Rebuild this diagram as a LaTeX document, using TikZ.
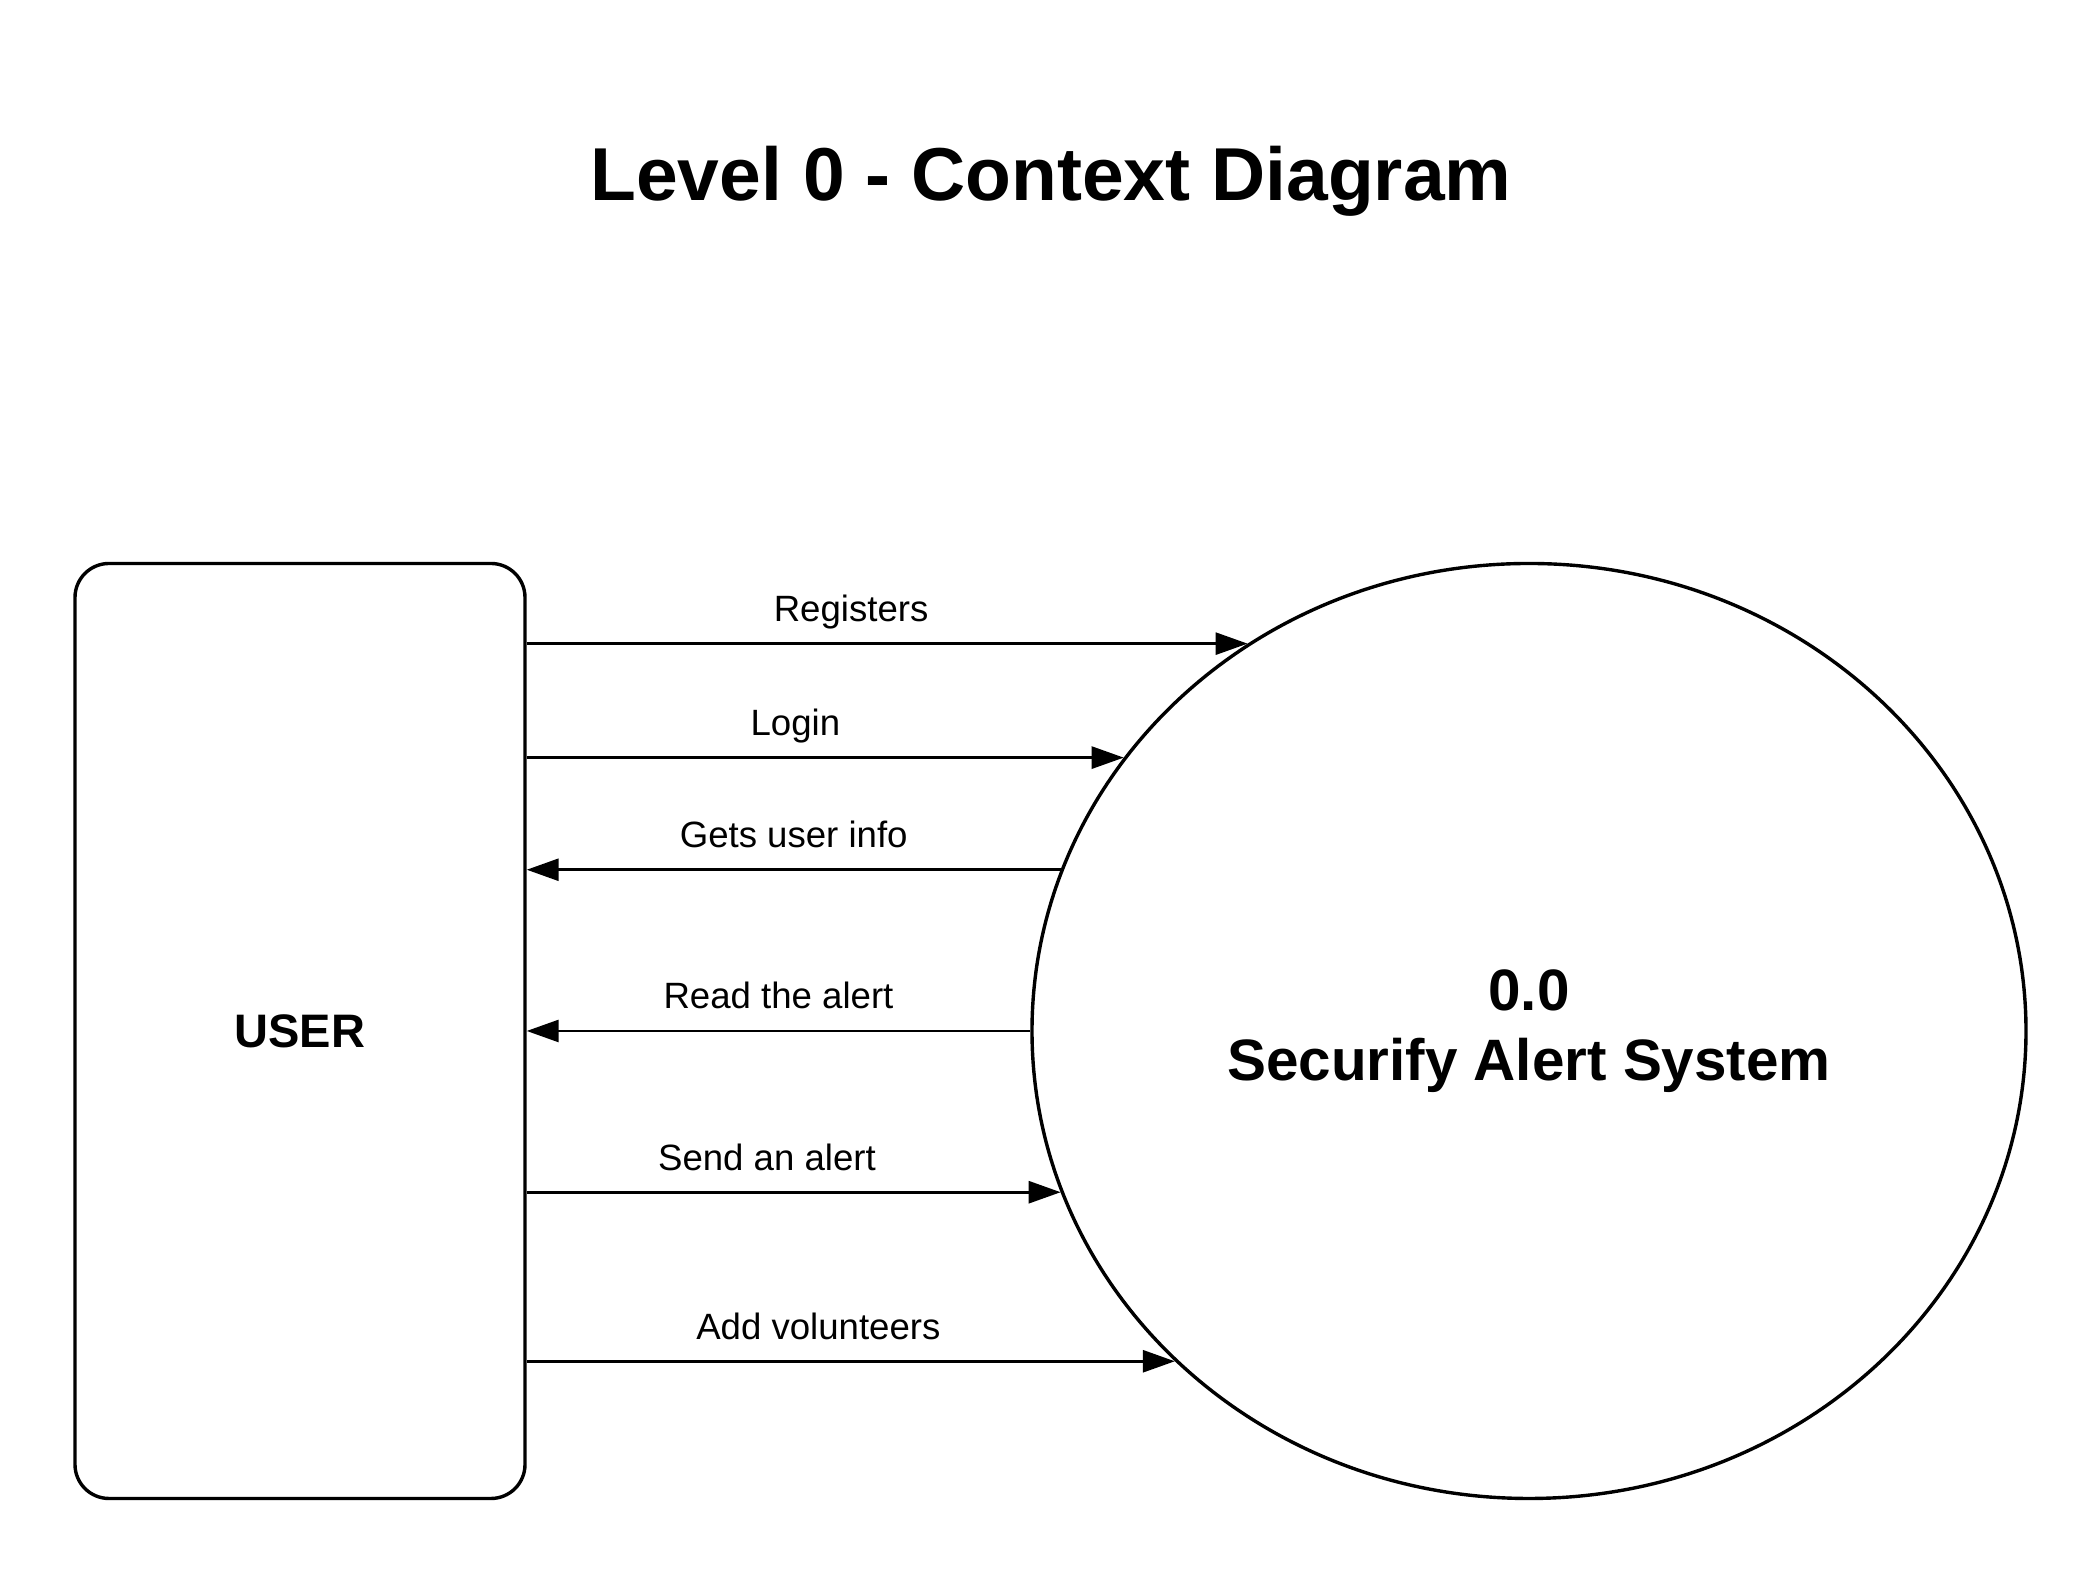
\documentclass[tikz,border=0pt]{standalone}
\usepackage{fontspec}
\setmainfont{Liberation Sans}
\usetikzlibrary{arrows.meta,shapes.geometric}

\begin{document}
\begin{tikzpicture}[x=.5pt,y=.5pt,
	flow/.style={line width=1.4pt,-{Triangle[length=16pt,width=11pt]}},
	lbl/.style={anchor=base,yshift=11pt,font=\fontsize{18.3}{22}\selectfont}]
	\useasboundingbox (0,0) rectangle (2100,1577);
	\node[anchor=base] (title) at (1051,1376) {\fontsize{37.5}{44}\selectfont\bfseries Level 0 - Context Diagram};
	
	\node[draw,line width=1.7pt,rounded corners=17pt,minimum width=225pt,minimum height=467.5pt,inner sep=0pt,font=\bfseries\fontsize{23.5}{28}\selectfont] (user) at (300,546) {USER};
	\node[draw,ellipse,line width=1.7pt,minimum width=497pt,minimum height=467.5pt,inner sep=0pt,align=center,font=\bfseries\fontsize{29.2}{35}\selectfont] (sys) at (1529,546) {0.0\\Securify Alert System};
	
	\draw[flow] (user.east |- sys.126.67) -- node[lbl,pos=.45] {Registers} (sys.126.67);
	\draw[flow] (user.east |- sys.146.43) -- node[lbl,pos=.45] {Login} (sys.146.43);
	\draw[flow] (sys.161.75) -- node[lbl] {Gets user info} (user.east |- sys.161.75);
	\draw[flow] (sys.west) -- node[lbl] {Read the alert} (user.east |- sys.west);
	\draw[flow] (user.east |- sys.199.06) -- node[lbl,pos=.45] {Send an alert} (sys.199.06);
	\draw[flow] (user.east |- sys.223.69) -- node[lbl,pos=.45] {Add volunteers} (sys.223.69);
\end{tikzpicture}
\end{document}
